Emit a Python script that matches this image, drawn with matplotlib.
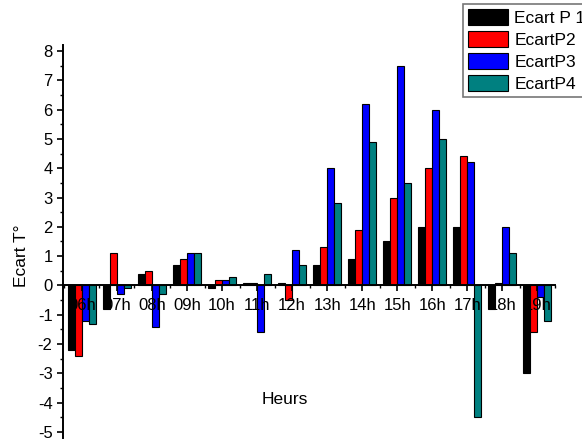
import matplotlib
matplotlib.use("Agg")
import matplotlib.pyplot as plt
from matplotlib.ticker import MultipleLocator
import numpy as np

plt.rcParams['font.family'] = ['Liberation Sans', 'DejaVu Sans']
plt.rcParams['axes.unicode_minus'] = False

hours = ["06h", "07h", "08h", "09h", "10h", "11h", "12h", "13h", "14h", "15h", "16h", "17h", "18h", "19h"]
ecart_p1 = [-2.2, -0.8, 0.4, 0.7, -0.1, 0.1, 0.1, 0.7, 0.9, 1.5, 2.0, 2.0, -0.8, -3.0]
ecart_p2 = [-2.4, 1.1, 0.5, 0.9, 0.2, 0.1, -0.5, 1.3, 1.9, 3.0, 4.0, 4.4, 0.1, -1.6]
ecart_p3 = [-1.2, -0.3, -1.4, 1.1, 0.2, -1.6, 1.2, 4.0, 6.2, 7.5, 6.0, 4.2, 2.0, -0.4]
ecart_p4 = [-1.3, -0.1, -0.3, 1.1, 0.3, 0.4, 0.7, 2.8, 4.9, 3.5, 5.0, -4.5, 1.1, -1.2]
series_names = ["Ecart P 1", "EcartP2", "EcartP3", "EcartP4"]
colors = ["#000000", "#ff0000", "#0000ff", "#008080"]

W, H = 582, 441
fig = plt.figure(figsize=(W / 100, H / 100), dpi=100)
ax = fig.add_axes([63 / W, 1 - 438 / H, (555 - 63) / W, (438 - 45) / H])
ax.set_axisbelow(False)

x = np.arange(len(hours))
bw = 0.2
handles = []
for k, (vals, c, name) in enumerate(zip([ecart_p1, ecart_p2, ecart_p3, ecart_p4], colors, series_names)):
    b = ax.bar(x + (k - 1.5) * bw, vals, width=bw, color=c, edgecolor="black",
               linewidth=0.8, label=name, zorder=1)
    handles.append(b)

ax.set_xlim(-0.54, 13.5)
ax.set_ylim(-5.2, 8.2)

for s in ["top", "right"]:
    ax.spines[s].set_visible(False)
ax.spines["bottom"].set_position(("data", 0))
for s in ["left", "bottom"]:
    ax.spines[s].set_linewidth(1.4)

ax.set_xticks(x)
ax.set_xticklabels(hours)
ax.xaxis.set_minor_locator(MultipleLocator(0.5))
ax.yaxis.set_major_locator(MultipleLocator(1))
ax.yaxis.set_minor_locator(MultipleLocator(0.5))
ax.tick_params(axis="x", which="major", direction="out", length=4, width=1.2, labelsize=12, pad=5)
ax.tick_params(axis="x", which="minor", direction="out", length=2.5, width=1.0)
ax.tick_params(axis="y", which="major", direction="out", length=4.5, width=1.2, labelsize=12, pad=3)
ax.tick_params(axis="y", which="minor", direction="out", length=2.5, width=1.0)

fig.text(22 / W, 1 - 256 / H, "Ecart T°", rotation=90, ha="center", va="center", fontsize=12.5)
fig.text(285 / W, 1 - 400 / H, "Heurs", ha="center", va="center", fontsize=12.5)

leg = fig.legend(handles=handles, labels=series_names, loc="upper left",
                 bbox_to_anchor=(463 / W, 1 - 4 / H), fontsize=12.5,
                 frameon=True, fancybox=False, handlelength=2.3, handleheight=1.0,
                 handletextpad=0.35, labelspacing=0.3, borderpad=0.3, borderaxespad=0)
leg.get_frame().set_edgecolor("#555555")
leg.get_frame().set_linewidth(1.2)

fig.savefig("out.png", dpi=100)
